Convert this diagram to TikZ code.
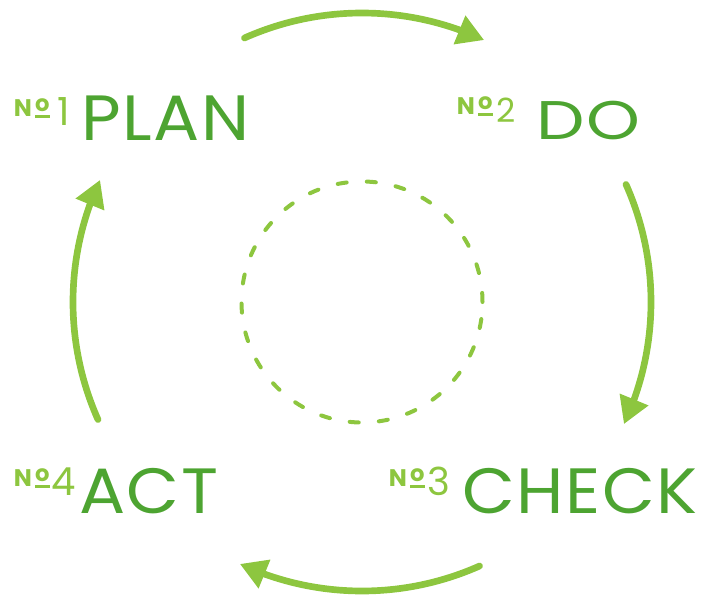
\documentclass[tikz,border=0pt]{standalone}
\usepackage{fontspec}
\setmainfont{Poppins}
\newfontfamily\stagefont[FakeStretch=1.07,LetterSpace=2.5]{Poppins}
\usepackage{xcolor}
\usetikzlibrary{arrows.meta,bending}
\definecolor{leaf}{HTML}{8DC63F}
\definecolor{forest}{HTML}{4DA431}
% "No" sign built from a bold N, a raised o and a bar under it
\newcommand\tagsign{\raisebox{6.5pt}{\fontsize{18}{18}\selectfont\bfseries
  N\hspace{2.5pt}\rlap{\raisebox{-1pt}{\rule{11.5pt}{2.3pt}}}\raisebox{3.8pt}{\fontsize{17}{17}\selectfont o}}}

\begin{document}
\begin{tikzpicture}[x=0.75pt,y=0.75pt,
  stage/.style={anchor=base west,inner sep=0pt,text=forest,font=\stagefont\fontsize{48}{48}\selectfont},
  tag/.style={anchor=base west,inner sep=0pt,text=leaf,font=\fontsize{29}{29}\selectfont},
  turn/.style={draw=leaf,line width=5pt,line cap=round,-{Triangle[length=20pt,width=22pt,flex]}},
  hubring/.style={draw=leaf,line width=3pt,line cap=round,dash pattern=on 6.8pt off 15.13pt}]
  \useasboundingbox (0,0) rectangle (707,594);
  \coordinate (hub) at (362,292);
  % the four stages
  \node[stage] (plan) at (81,454) {PLAN};
  \node[stage] (do) at (536,454) {\scalebox{1}[.85]{DO}};
  \node[stage] (check) at (462,81) {CHECK};
  \node[stage] (act) at (79,81) {ACT};
  % their numbers
  \node[tag] (plan-no) at (13.5,469) {\tagsign\hspace{6pt}1};
  \node[tag,font=\fontsize{25}{25}\selectfont] (do-no) at (456.5,471) {\tagsign\hspace{3pt}2};
  \node[tag] (check-no) at (388.5,99) {\tagsign\hspace{2.5pt}3};
  \node[tag] (act-no) at (13.5,99) {\tagsign\hspace{1.5pt}4};
  % ring in the middle
  \draw[hubring] (hub) circle[radius=120.5];
  % arrows going round
  \draw[turn] (hub) ++(114:289) arc[start angle=114,end angle=65,radius=289];
  \draw[turn] (hub) ++(24:289) arc[start angle=24,end angle=-25,radius=289];
  \draw[turn] (hub) ++(-66:289) arc[start angle=-66,end angle=-115,radius=289];
  \draw[turn] (hub) ++(204:289) arc[start angle=204,end angle=155,radius=289];
\end{tikzpicture}
\end{document}
